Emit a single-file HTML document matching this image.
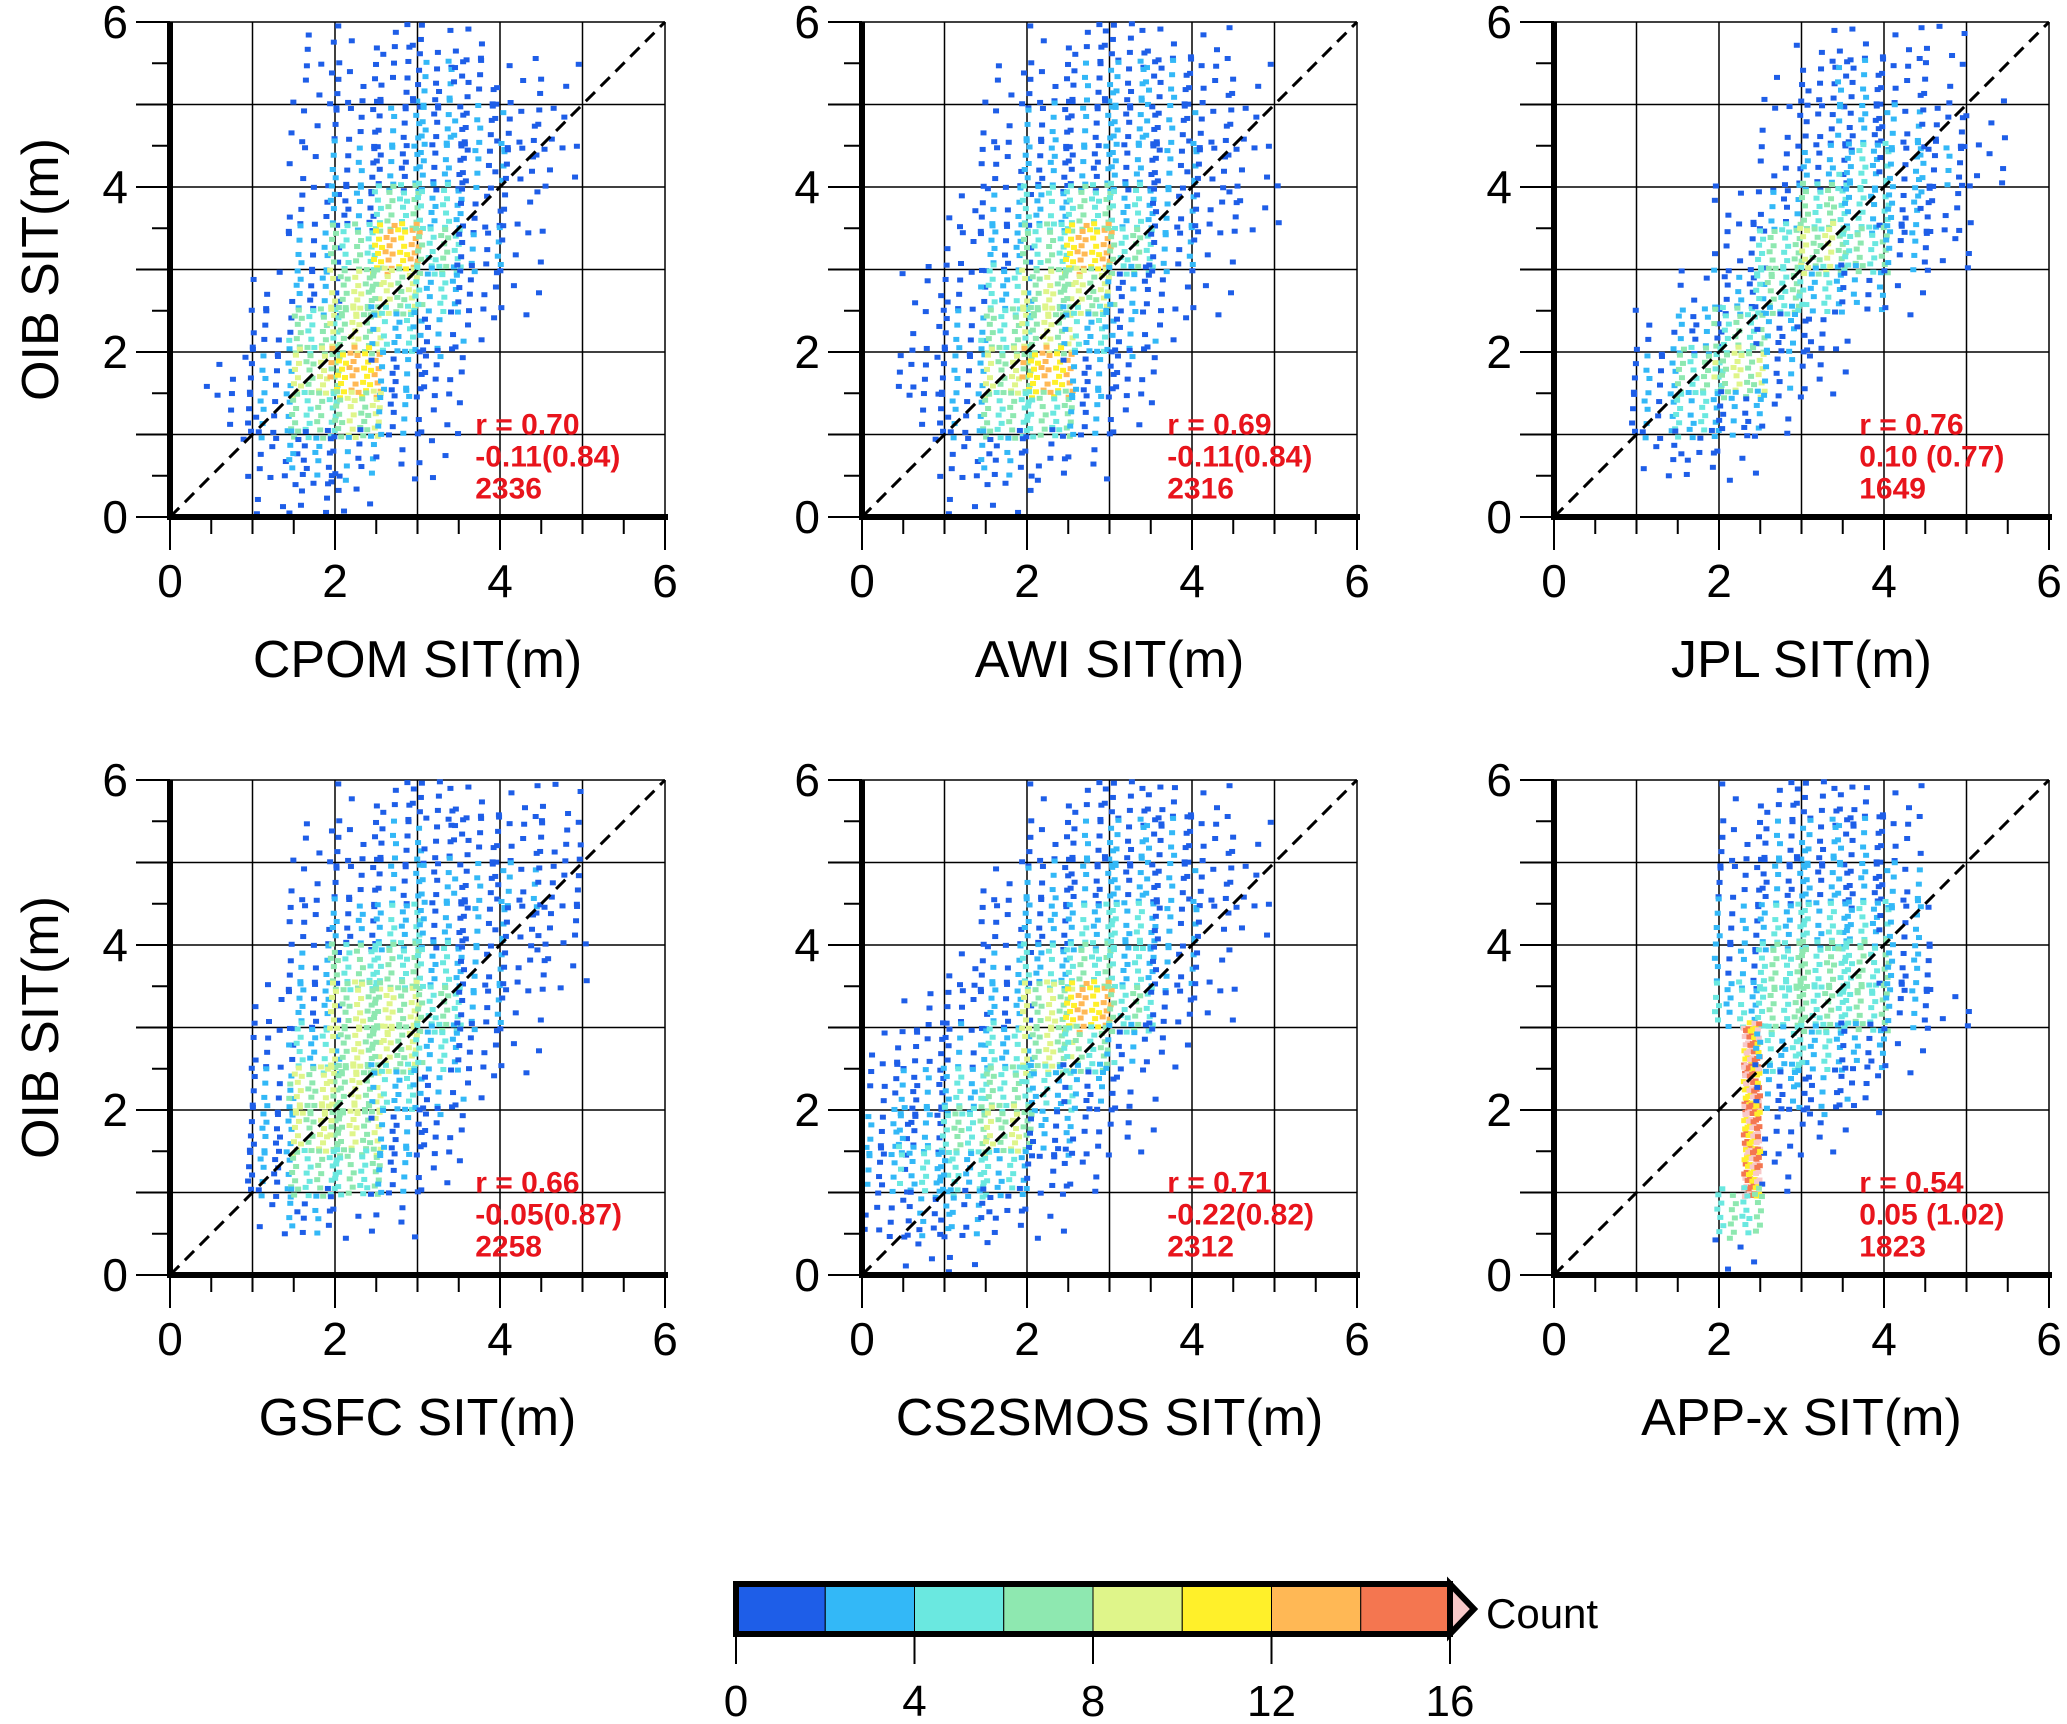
<!DOCTYPE html>
<html><head><meta charset="utf-8">
<style>
html,body{margin:0;padding:0;background:#fff;}
svg{display:block;font-family:"Liberation Sans",Arial,sans-serif;}
</style></head>
<body>
<svg id="fig" width="2067" height="1724" viewBox="0 0 2067 1724" xmlns="http://www.w3.org/2000/svg"></svg>
<script>
// ---- data: density per 0.5 m bin, rows from y=6 (top) to y=0, cols x=0..6 ----
const panelNames = ["CPOM","AWI","JPL","GSFC","CS2SMOS","APP-x"];
const statR = ["r = 0.70","r = 0.69","r = 0.76","r = 0.66","r = 0.71","r = 0.54"];
const statBias = ["-0.11(0.84)","-0.11(0.84)","0.10 (0.77)","-0.05(0.87)","-0.22(0.82)","0.05 (1.02)"];
const statN = ["2336","2316","1649","2258","2312","1823"];
const densCPOM = ["000112110000","000122321100","000123432100","000134432100","000246521000","000368631000","001477521000","002675310000","013784200000","013673100000","002431100000","001210000000"];
const densAWI = ["000012211000","000123332100","000133432100","000244432100","001356532100","001468631000","012577411000","013675310000","023784200000","013663100000","002321000000","001100000000"];
const densJPL = ["000000111100","000001232100","000001243210","000002453310","000013654200","000026763100","000146531000","001464200000","003673100000","003541000000","001210000000","000000000000"];
const densGSFC = ["000012211100","000123222200","000123333200","000245432200","000366532100","001477631000","002577521000","003775310000","004774200000","004663100000","001311000000","000000000000"];
const densCS2 = ["000012221000","000023332100","000134432100","000245531100","001356531000","012478621000","123576310000","245654100000","346742100000","355521000000","233210000000","011000000000"];
const densAPP = ["000012221000","000023332000","000024443000","000035553000","000036664000","000056663100","0000a5541000","0000a4320000","0000a2100000","0000a1000000","000060000000","000010000000"];
const densities = [densCPOM,densAWI,densJPL,densGSFC,densCS2,densAPP];
const cbTicks = [0,4,8,12,16];
const cbColors = ["#1e5ee8","#33b8f7","#6ae8e0","#8ee8b0","#dff58a","#fff02a","#ffb855","#f47650"];
const overColor = "#f8c8c8";
const axisTicks = [0,2,4,6];

const NS="http://www.w3.org/2000/svg";
const svg=document.getElementById('fig');
function mk(tag,attrs,parent){const e=document.createElementNS(NS,tag);for(const k in attrs)e.setAttribute(k,attrs[k]);(parent||svg).appendChild(e);return e;}

const X0=[170,862,1554], Y0=[22,780], S=495;
const levelOf=v=>[0,0,0,1,1,2,3,4,6,7,8][v];
const colorOf=l=>l>=8?overColor:cbColors[l];

panelNames.forEach((name,i)=>{
  const col=i%3,row=Math.floor(i/3);
  const ox=X0[col],oy=Y0[row];
  const sx=v=>ox+v/6*S, sy=v=>oy+S-v/6*S;
  const g=mk('g',{});
  
  
  for(let k=1;k<=6;k++){
    mk('line',{x1:sx(k),y1:sy(0),x2:sx(k),y2:sy(6),stroke:'#000','stroke-width':1.5},g);
    mk('line',{x1:sx(0),y1:sy(k),x2:sx(6),y2:sy(k),stroke:'#000','stroke-width':1.5},g);
  }
  const dens=densities[i];
  const pg=mk('g',{},g);
  
  
  dens.forEach((rstr,r)=>{
    for(let c=0;c<rstr.length;c++){
      const v=parseInt(rstr[c],16);
      if(!v)continue;
      const n=v*5, lvl=levelOf(v);
      const narrow=(v>=10);
      const off1=((r*7+c*13)*0.1377)%1, off2=((r*11+c*5)*0.2913)%1;
      for(let k=0;k<n;k++){
        const fx=(off1+k*0.7548776662)%1, fy=(off2+k*0.5698402910)%1;
        const xv=narrow? c*0.5+0.3+fx*0.2 : c*0.5-0.06+fx*0.62;
        const yv=(11-r)*0.5-0.06+fy*0.62;
        if(xv<0.02||yv<0.02||xv>5.98||yv>5.98)continue;
        let l;
        if(narrow) l=(k%3===0)?8:((k%3===1)?7:5);
        else l=(k%2===0)?lvl:Math.max(0,lvl-1);
        const d=mk('rect',{x:sx(xv)-3,y:sy(yv)-2.5,width:6,height:5,fill:colorOf(l)},pg);
        
        
      }
    }
  });
  const dl=mk('line',{x1:sx(0),y1:sy(0),x2:sx(6),y2:sy(6),stroke:'#000','stroke-width':3,'stroke-dasharray':'13 8'},g);
  
  
  const ay=mk('line',{x1:sx(0),y1:sy(0)+3,x2:sx(0),y2:sy(6),stroke:'#000','stroke-width':6},g);
  
  
  const ax=mk('line',{x1:sx(0)-3,y1:sy(0),x2:sx(6)+3,y2:sy(0),stroke:'#000','stroke-width':6},g);
  
  
  for(let k=0;k<=12;k++){
    const v=k/2, major=(k%2===0);
    mk('line',{x1:sx(0),y1:sy(v),x2:sx(0)-(major?34:18),y2:sy(v),stroke:'#000','stroke-width':2},g);
    const bm=(k%4===0);
    mk('line',{x1:sx(v),y1:sy(0),x2:sx(v),y2:sy(0)+(bm?33:17),stroke:'#000','stroke-width':2},g);
  }
  axisTicks.forEach(t=>{
    const tx=mk('text',{x:sx(t),y:sy(0)+80,'font-size':46,'text-anchor':'middle'},g);
    tx.textContent=t;
    
    
    const ty=mk('text',{x:sx(0)-42,y:sy(t)+16,'font-size':46,'text-anchor':'end'},g);
    ty.textContent=t;
    
    
  });
  const xt=mk('text',{x:ox+S/2,y:oy+S+160,'font-size':52,'text-anchor':'middle'},g);
  xt.textContent=name+' SIT(m)';
  
  
  if(col===0){
    const yt=mk('text',{x:0,y:0,'font-size':52,'text-anchor':'middle',transform:`translate(58,${oy+S/2}) rotate(-90)`},g);
    yt.textContent='OIB SIT(m)';
    
    
  }
  [statR[i],statBias[i],statN[i]].forEach((s,j)=>{
    const st=mk('text',{x:sx(3.7),y:sy(1.0)+j*32,'font-size':30,'font-weight':'bold',fill:'#e8141c'},g);
    st.textContent=s;
    
    
  });
});

const cb=mk('g',{});


const cbL=736,cbR=1450,cbT=1584,cbB=1634;
const cbx=v=>cbL+v/16*(cbR-cbL);
cbColors.forEach((c,k)=>{
  const r=mk('rect',{x:cbx(k*2),y:cbT,width:cbx(2)-cbx(0),height:cbB-cbT,fill:c,stroke:'#000','stroke-width':1},cb);
  
  
});
mk('polygon',{points:`${cbR},${cbT} ${cbR+24},${(cbT+cbB)/2} ${cbR},${cbB}`,fill:overColor,stroke:'#000','stroke-width':6},cb);
mk('rect',{x:cbL,y:cbT,width:cbR-cbL,height:cbB-cbT,fill:'none',stroke:'#000','stroke-width':6},cb);
cbTicks.forEach(t=>{
  mk('line',{x1:cbx(t),y1:cbB,x2:cbx(t),y2:cbB+30,stroke:'#000','stroke-width':2},cb);
  const tl=mk('text',{x:cbx(t),y:1716,'font-size':44,'text-anchor':'middle'},cb);
  tl.textContent=t;
  
  
});
const ct=mk('text',{x:1486,y:1628,'font-size':42},cb);
ct.textContent='Count';


</script>
</body></html>
